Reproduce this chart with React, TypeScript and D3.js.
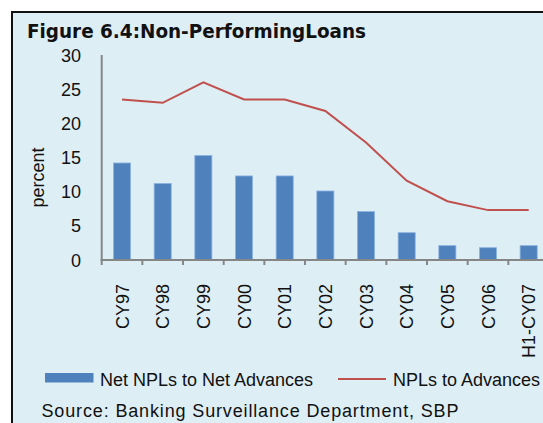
import React from "react";
import * as d3 from "d3";

const categories = ["CY97", "CY98", "CY99", "CY00", "CY01", "CY02", "CY03", "CY04", "CY05", "CY06", "H1-CY07"];
const netNPLs = [14.2, 11.2, 15.3, 12.3, 12.3, 10.1, 7.1, 4.0, 2.1, 1.8, 2.1];
const grossNPLs = [23.5, 23.0, 26.0, 23.5, 23.5, 21.8, 17.2, 11.6, 8.6, 7.3, 7.3];
const yTicks = [0, 5, 10, 15, 20, 25, 30];

const W = 543;
const H = 423;
const plotLeft = 101.7;
const plotRight = 549;
const plotTop = 55;
const plotBottom = 260;

export default function App() {
  const x = d3.scaleBand<string>().domain(categories).range([plotLeft, plotRight]).paddingInner(0).paddingOuter(0);
  const y = d3.scaleLinear().domain([0, 30]).range([plotBottom, plotTop]);
  const bw = x.bandwidth() * 0.42;
  const line = d3
    .line<number>()
    .x((_, i) => (x(categories[i]) as number) + x.bandwidth() / 2)
    .y((d) => y(d));
  const tickXs = categories.map((c) => x(c) as number).concat([plotRight]);
  const font = "'Liberation Sans', Arial, sans-serif";

  return (
    <svg
      width={W}
      height={H}
      style={{ position: "absolute", left: 0, top: 0 }}
      fontFamily={font}
    >
      <rect x={0} y={0} width={W} height={H} fill="#ffffff" />
      <rect x={12} y={12} width={W} height={H} fill="#deeef5" stroke="#111" strokeWidth={2} />
      <text x={27} y={38} fontSize={19} fontWeight="bold" fill="#111" fontFamily="'DejaVu Sans', sans-serif" textLength={339} lengthAdjust="spacingAndGlyphs">
        Figure 6.4:Non-PerformingLoans
      </text>
      {yTicks.map((t) => (
        <text key={t} x={81} y={y(t) + 6.5} fontSize={18} textAnchor="end" fill="#111">
          {t}
        </text>
      ))}
      <text transform={`translate(44,${(plotTop + plotBottom) / 2 + 20}) rotate(-90)`} fontSize={18} textAnchor="middle" fill="#111">
        percent
      </text>
      {categories.map((c, i) => (
        <rect
          key={c}
          x={(x(c) as number) + x.bandwidth() / 2 - bw / 2}
          y={y(netNPLs[i])}
          width={bw}
          height={plotBottom - y(netNPLs[i])}
          fill="#4f81bd"
          stroke="#8db3e2"
          strokeWidth={0.8}
        />
      ))}
      <path d={line(grossNPLs) || ""} fill="none" stroke="#c0504d" strokeWidth={2} />
      <line x1={plotLeft} x2={plotLeft} y1={plotTop} y2={plotBottom + 1} stroke="#868686" strokeWidth={2} />
      <line x1={plotLeft - 1} x2={plotRight} y1={plotBottom} y2={plotBottom} stroke="#868686" strokeWidth={2} />
      {tickXs.map((tx, i) => (
        <line key={i} x1={tx} x2={tx} y1={plotBottom} y2={plotBottom + 5} stroke="#868686" strokeWidth={2} />
      ))}
      {categories.map((c) => (
        <text
          key={c}
          transform={`translate(${(x(c) as number) + x.bandwidth() / 2 + 6.5},284) rotate(-90)`}
          fontSize={18}
          textAnchor="end"
          fill="#111"
        >
          {c}
        </text>
      ))}
      <rect x={45} y={373} width={48.5} height={9.5} fill="#4f81bd" />
      <text x={100} y={386} fontSize={18} fill="#111">Net NPLs to Net Advances</text>
      <line x1={338} x2={386} y1={379} y2={379} stroke="#c0504d" strokeWidth={2} />
      <text x={393} y={386} fontSize={18} fill="#111">NPLs to Advances</text>
      <text x={41.5} y={417} fontSize={18} fill="#111" textLength={417} lengthAdjust="spacing">
        Source: Banking Surveillance Department, SBP
      </text>
    </svg>
  );
}
